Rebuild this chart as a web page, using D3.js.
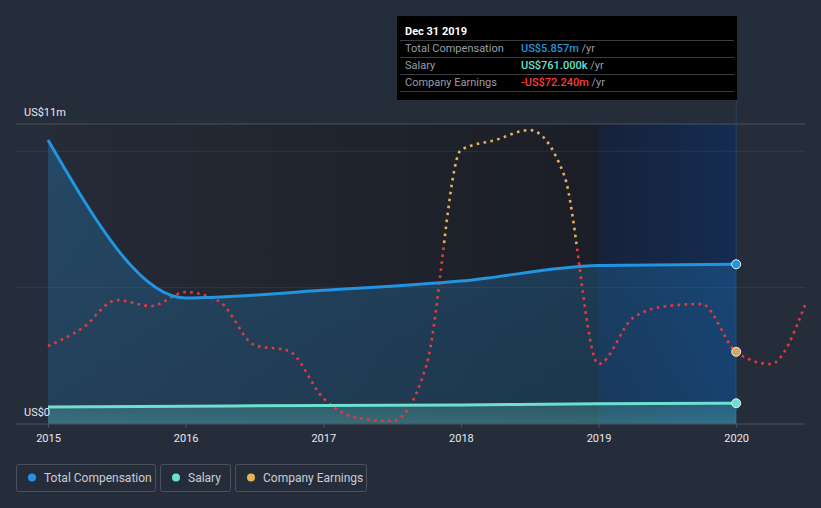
<!DOCTYPE html>
<html><head><meta charset="utf-8">
<script src="https://cdn.jsdelivr.net/npm/d3@7"></script>
<style>
body{margin:0;background:#262d3a;}
svg{display:block;font-family:Roboto,"Noto Sans",sans-serif;}
</style>
</head><body>
<svg id="c" width="821" height="508"></svg>
<script>
// ---- data ----
const years = [2015, 2016, 2017, 2018, 2019, 2020];
const totalComp = [10.41, 4.62, 4.90, 5.24, 5.81, 5.857];   // US$m
const salary = [0.62, 0.65, 0.68, 0.70, 0.74, 0.761];        // US$m
const earnDates = [2015, 2015.25, 2015.5, 2015.75, 2016, 2016.25, 2016.5, 2016.75,
  2017, 2017.25, 2017.5, 2017.75, 2018, 2018.25, 2018.5, 2018.75,
  2019, 2019.25, 2019.5, 2019.75, 2020, 2020.25, 2020.5];
const earnings = [-68.3, -56.2, -37.3, -41.3, -31.9, -38.6, -67.7, -71.7,
  -103.5, -117.0, -119.0, -81.2, 64.0, 70.8, 77.5, 47.1,
  -80.5, -49.4, -41.3, -40.0, -72.24, -80.5, -40.7];           // US$m
const xTickLabels = ["2015", "2016", "2017", "2018", "2019", "2020"];
const yTickValues = [0, 11];
const yTickLabels = ["US$0", "US$11m"];
const gridValues = [5, 10];
const legendItems = ["Total Compensation", "Salary", "Company Earnings"];
const tooltipTitle = "Dec 31 2019";
const tooltipRows = [
  ["Total Compensation", "US$5.857m"],
  ["Salary", "US$761.000k"],
  ["Company Earnings", "-US$72.240m"]
];

// ---- styles ----
const C = {blue: "#2394df", teal: "#6ee0d0", orange: "#eab054", red: "#e8383d"};

const svg = d3.select("#c");
const x = d3.scaleLinear().domain([2015, 2020.5]).range([48, 805]);
const y = d3.scaleLinear().domain([0, 11]).range([424, 124]);
const yE = d3.scaleLinear().domain([-121, 81.6]).range([424, 124]);

const defs = svg.append("defs");
const bgGrad = defs.append("linearGradient").attr("id", "bgG")
  .attr("gradientUnits", "userSpaceOnUse").attr("x1", x(2015)).attr("x2", x(2019)).attr("y1", 0).attr("y2", 0);
bgGrad.append("stop").attr("offset", 0).attr("stop-color", "#252b37");
bgGrad.append("stop").attr("offset", 1).attr("stop-color", "#1b1e26");

const bandGrad = defs.append("linearGradient").attr("id", "bandG")
  .attr("gradientUnits", "userSpaceOnUse").attr("x1", x(2019)).attr("x2", x(2020)).attr("y1", 0).attr("y2", 0);
bandGrad.append("stop").attr("offset", 0).attr("stop-color", "#17223a");
bandGrad.append("stop").attr("offset", 1).attr("stop-color", "#142c52");

const compArea = defs.append("linearGradient").attr("id", "compA").attr("x1", 0).attr("x2", 0).attr("y1", 0).attr("y2", 1);
compArea.append("stop").attr("offset", 0).attr("stop-color", C.blue).attr("stop-opacity", 0.28);
compArea.append("stop").attr("offset", 1).attr("stop-color", C.blue).attr("stop-opacity", 0.2);

const salArea = defs.append("linearGradient").attr("id", "salA").attr("x1", 0).attr("x2", 0).attr("y1", 0).attr("y2", 1);
salArea.append("stop").attr("offset", 0).attr("stop-color", C.teal).attr("stop-opacity", 0.2);
salArea.append("stop").attr("offset", 1).attr("stop-color", C.teal).attr("stop-opacity", 0.3);

const zeroOff = (yE(0) - 124) / 300;
const eGrad = defs.append("linearGradient").attr("id", "eG")
  .attr("gradientUnits", "userSpaceOnUse").attr("x1", 0).attr("x2", 0).attr("y1", 124).attr("y2", 424);
eGrad.append("stop").attr("offset", 0).attr("stop-color", C.orange);
eGrad.append("stop").attr("offset", zeroOff).attr("stop-color", C.orange);
eGrad.append("stop").attr("offset", zeroOff).attr("stop-color", C.red);
eGrad.append("stop").attr("offset", 1).attr("stop-color", C.red);

// backgrounds
svg.append("rect").attr("x", x(2015)).attr("y", y(11)).attr("width", x(2019) - x(2015)).attr("height", y(0) - y(11)).attr("fill", "url(#bgG)");
svg.append("rect").attr("x", x(2019)).attr("y", y(11)).attr("width", x(2020) - x(2019)).attr("height", y(0) - y(11)).attr("fill", "url(#bandG)");

// grid
svg.selectAll(".grid").data(gridValues).join("line")
  .attr("x1", 16).attr("x2", 805).attr("y1", d => y(d)).attr("y2", d => y(d))
  .attr("stroke", "#ffffff").attr("stroke-opacity", 0.07);
svg.append("line").attr("x1", 16).attr("x2", 805).attr("y1", y(11)).attr("y2", y(11))
  .attr("stroke", "#4b515c").attr("stroke-width", 1);

// hover line
svg.append("line").attr("x1", x(2020)).attr("x2", x(2020)).attr("y1", 100).attr("y2", y(0))
  .attr("stroke", "#2a4a78").attr("stroke-opacity", 0.7);

const compData = years.map((d, i) => [d, totalComp[i]]);
const salData = years.map((d, i) => [d, salary[i]]);
const earnData = earnDates.map((d, i) => [d, earnings[i]]);

svg.append("path").datum(compData)
  .attr("d", d3.area().x(d => x(d[0])).y0(y(0)).y1(d => y(d[1])).curve(d3.curveMonotoneX))
  .attr("fill", "url(#compA)");
svg.append("path").datum(salData)
  .attr("d", d3.area().x(d => x(d[0])).y0(y(0)).y1(d => y(d[1])).curve(d3.curveMonotoneX))
  .attr("fill", "url(#salA)");

svg.append("path").datum(earnData)
  .attr("d", d3.line().x(d => x(d[0])).y(d => yE(d[1])).curve(d3.curveMonotoneX))
  .attr("fill", "none").attr("stroke", "url(#eG)").attr("stroke-width", 2.6)
  .attr("stroke-dasharray", "2.6 4.4");

svg.append("path").datum(compData)
  .attr("d", d3.line().x(d => x(d[0])).y(d => y(d[1])).curve(d3.curveMonotoneX))
  .attr("fill", "none").attr("stroke", C.blue).attr("stroke-width", 3);
svg.append("path").datum(salData)
  .attr("d", d3.line().x(d => x(d[0])).y(d => y(d[1])).curve(d3.curveMonotoneX))
  .attr("fill", "none").attr("stroke", C.teal).attr("stroke-width", 3);

// axis
svg.append("line").attr("x1", 16).attr("x2", 805).attr("y1", y(0)).attr("y2", y(0))
  .attr("stroke", "#4b515c");
const xa = svg.append("g").attr("transform", `translate(0,${y(0)})`)
  .call(d3.axisBottom(x).tickValues(years).tickFormat((d, i) => xTickLabels[i]).tickSize(4).tickPadding(6));
xa.select(".domain").remove();
xa.selectAll("line").attr("stroke", "#4b515c");
xa.selectAll("text").attr("fill", "#e6e8eb").attr("font-size", 11).attr("font-family", "Roboto,sans-serif");

svg.selectAll(".ylab").data(yTickValues).join("text")
  .attr("x", 24).attr("y", d => y(d) - 8)
  .attr("fill", "#e6e8eb").attr("font-size", 11).text((d, i) => yTickLabels[i]);

// end markers
const last = years.length - 1;
[[totalComp[last], y, C.blue], [salary[last], y, C.teal], [earnings[earnings.indexOf(-72.24)], yE, "#d9a35e"]]
  .forEach(([v, sc, col]) => {
    svg.append("circle").attr("cx", x(2020)).attr("cy", sc(v)).attr("r", 4.5)
      .attr("fill", col).attr("stroke", "#e8eef5").attr("stroke-width", 1);
  });

// tooltip
const tt = svg.append("g");
tt.append("rect").attr("x", 397).attr("y", 16).attr("width", 340).attr("height", 84).attr("fill", "#000");
tt.append("text").attr("x", 405).attr("y", 35).attr("fill", "#fff").attr("font-size", 11).attr("font-weight", "bold").text(tooltipTitle);
[40, 57, 74, 91].forEach(yy => tt.append("line").attr("x1", 400).attr("x2", 734).attr("y1", yy + 0.5).attr("y2", yy + 0.5).attr("stroke", "#3a3d42"));
const valCols = [C.blue, C.teal, "#ff3b3b"];
tooltipRows.forEach((r, i) => {
  const yy = 52 + i * 17;
  tt.append("text").attr("x", 405).attr("y", yy).attr("fill", "#9a9ea6").attr("font-size", 11).text(r[0]);
  const t = tt.append("text").attr("x", 521).attr("y", yy).attr("font-size", 11);
  t.append("tspan").attr("fill", valCols[i]).attr("font-weight", 500).text(r[1]);
  t.append("tspan").attr("fill", "#9a9ea6").text(" /yr");
});

// legend
const legX = [16, 160, 235], legW = [139, 70, 131], legCols = [C.blue, C.teal, C.orange];
legendItems.forEach((name, i) => {
  const g = svg.append("g");
  g.append("rect").attr("x", legX[i] + 0.5).attr("y", 464.5).attr("width", legW[i]).attr("height", 27).attr("rx", 2)
    .attr("fill", "none").attr("stroke", "#4c525d");
  g.append("circle").attr("cx", legX[i] + 16).attr("cy", 477.5).attr("r", 4).attr("fill", legCols[i]);
  g.append("text").attr("x", legX[i] + 28).attr("y", 481.5).attr("fill", "#c9cdd3").attr("font-size", 12).text(name);
});
</script>
</body></html>
